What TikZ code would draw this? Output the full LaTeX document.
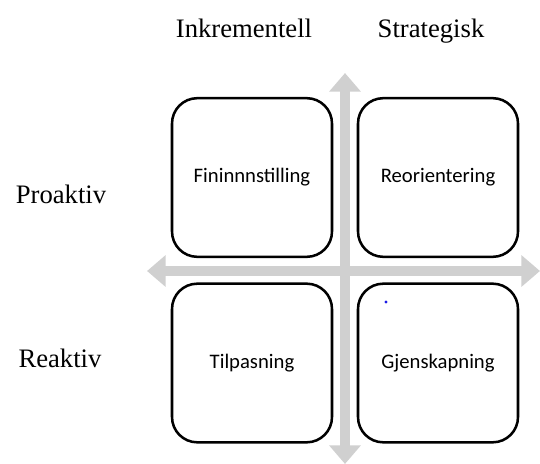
\documentclass[tikz,border=0pt]{standalone}
\usepackage{fontspec}
\setmainfont{Liberation Serif}
\newfontfamily\boxfont{Carlito}
\usepackage{tikz}
\usetikzlibrary{arrows.meta, positioning}
\definecolor{axisgray}{HTML}{D0D0D0}
\definecolor{dotblue}{HTML}{1A1AE6}

\begin{document}
\begin{tikzpicture}[
    x=0.75pt, y=-0.75pt,
    quadrant/.style={draw=black, line width=1.9pt, rounded corners=19pt,
        minimum width=120pt, minimum height=119pt, text height=0.8em, text depth=0pt,
        font=\boxfont\fontsize{15.5}{18}\selectfont},
    axislabel/.style={anchor=base, font=\fontsize{20}{24}\selectfont},
    axisline/.style={axisgray, line width=6.8pt,
        {Triangle[width=23pt, length=14pt]}-{Triangle[width=23pt, length=14pt]}},
]
    \useasboundingbox (0, 0) rectangle (540, 464);

    % axes
    \coordinate (top) at (345, 73);
    \coordinate (bottom) at (345, 464);
    \coordinate (left) at (147, 271);
    \coordinate (right) at (540, 271);
    \draw[axisline] (bottom) -- (top);
    \draw[axisline] (left) -- (right);

    % quadrants
    \node[quadrant] (fine) at (252, 177.5) {Fininnnstilling};
    \node[quadrant] (reor) at (438, 177.5) {Reorientering};
    \node[quadrant] (tilp) at (252, 363) {Tilpasning};
    \node[quadrant] (gjen) at (438, 363) {Gjenskapning};

    % labels
    \node[axislabel] (inkr) at (244, 37) {Inkrementell};
    \node[axislabel] (strat) at (431, 37) {Strategisk};
    \node[axislabel] (proak) at (61, 203) {Proaktiv};
    \node[axislabel] (reak) at (60, 367) {Reaktiv};

    \fill[dotblue] (386, 302) circle (1.6);
\end{tikzpicture}
\end{document}
